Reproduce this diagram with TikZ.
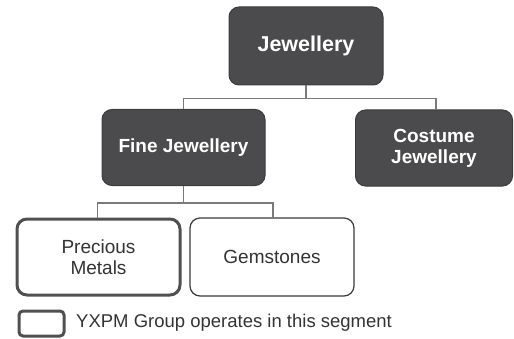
\documentclass[tikz,border=0pt]{standalone}
\usepackage{fontspec}
\setmainfont{Liberation Sans}
\begin{document}
\begin{tikzpicture}[x=1pt,y=1pt,
  darkbox/.style={draw=darkedge,fill=darkfill,rounded corners=10pt,line width=1pt,
    text=white,font=\fontsize{19}{21}\selectfont\bfseries,align=center,inner sep=0pt},
  lightbox/.style={draw=lightedge,fill=white,rounded corners=10pt,line width=1.2pt,
    text=textgray,font=\fontsize{19}{21}\selectfont,align=center,inner sep=0pt},
  ourbox/.style={lightbox,draw=thickedge,line width=3pt},
  link/.style={draw=linkgray,line width=1.2pt}]
\definecolor{darkfill}{HTML}{4B4B4D}
\definecolor{darkedge}{HTML}{3C3C3E}
\definecolor{lightedge}{HTML}{3A3A3A}
\definecolor{thickedge}{HTML}{505050}
\definecolor{textgray}{HTML}{333333}
\definecolor{linkgray}{HTML}{7A7A7A}
\useasboundingbox (0,0) rectangle (514,338);
\node[darkbox,minimum width=154pt,minimum height=78pt,font=\fontsize{21.5}{23}\selectfont\bfseries] (jew) at (306,292) {Jewellery};
\node[darkbox,minimum width=163pt,minimum height=76pt] (fine) at (183.5,190.5) {Fine Jewellery};
\node[darkbox,minimum width=157pt,minimum height=76pt] (cos) at (434,190) {Costume\\Jewellery};
\node[ourbox,minimum width=163pt,minimum height=76pt] (prec) at (98.5,81) {Precious\\Metals};
\node[lightbox,minimum width=164pt,minimum height=78pt] (gem) at (272,81) {Gemstones};
\node[ourbox,rounded corners=4pt,minimum width=45pt,minimum height=25pt] (leg) at (41.5,14.5) {};
\node[anchor=west,inner sep=0pt,text=textgray,font=\fontsize{18.5}{20}\selectfont] (legtxt) at (76,15) {YXPM Group operates in this segment};
\draw[link] (jew.south) -- ++(0,-13) -| (fine.north);
\draw[link] (jew.south) -- ++(0,-13) -| ([xshift=2pt]cos.north);
\draw[link] (fine.south) -- ++(0,-17) -| ([xshift=-1pt]prec.north);
\draw[link] (fine.south) -- ++(0,-17) -| ([xshift=1pt]gem.north);
\end{tikzpicture}
\end{document}
